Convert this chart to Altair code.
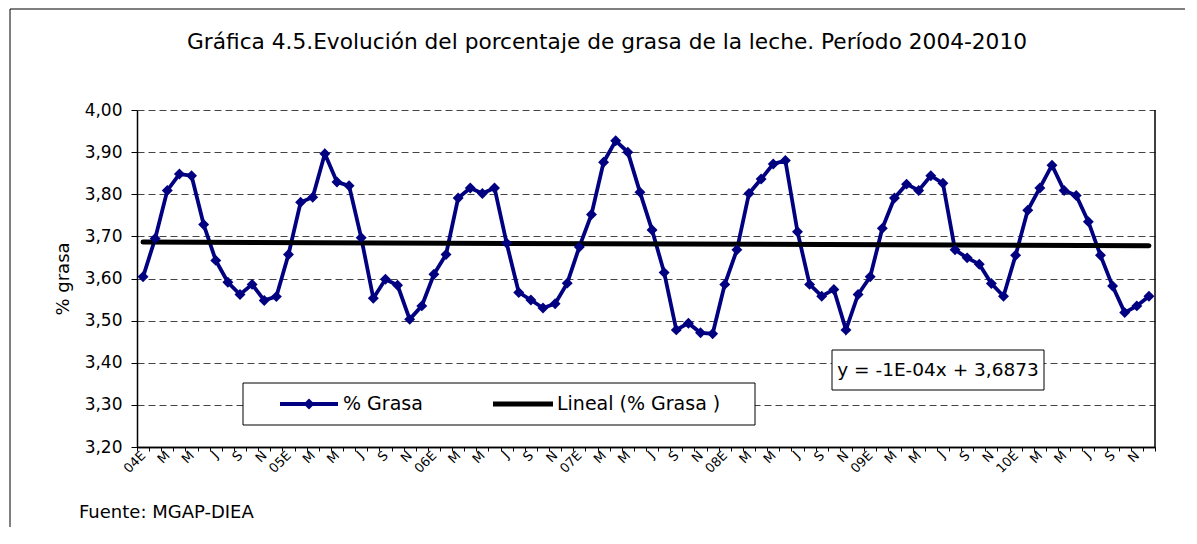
import altair as alt
import pandas as pd

years = ["2004", "2005", "2006", "2007", "2008", "2009", "2010"]
month_initials = ["E", "F", "M", "A", "M", "J", "J", "A", "S", "O", "N", "D"]

grasa_2004 = [3.604, 3.695, 3.809, 3.848, 3.844, 3.728, 3.643, 3.591, 3.562, 3.586, 3.548, 3.557]
grasa_2005 = [3.657, 3.781, 3.793, 3.896, 3.829, 3.820, 3.697, 3.553, 3.598, 3.584, 3.503, 3.535]
grasa_2006 = [3.610, 3.657, 3.791, 3.815, 3.802, 3.815, 3.684, 3.567, 3.549, 3.530, 3.540, 3.589]
grasa_2007 = [3.675, 3.752, 3.876, 3.927, 3.900, 3.805, 3.715, 3.614, 3.478, 3.494, 3.471, 3.469]
grasa_2008 = [3.586, 3.668, 3.802, 3.836, 3.872, 3.880, 3.711, 3.586, 3.558, 3.574, 3.478, 3.562]
grasa_2009 = [3.604, 3.719, 3.791, 3.824, 3.809, 3.844, 3.826, 3.668, 3.649, 3.634, 3.588, 3.558]
grasa_2010 = [3.655, 3.762, 3.815, 3.869, 3.809, 3.797, 3.735, 3.655, 3.582, 3.519, 3.535, 3.558]

y_ticks = [3.2, 3.3, 3.4, 3.5, 3.6, 3.7, 3.8, 3.9, 4.0]

title_text = "Gráfica 4.5.Evolución del porcentaje de grasa  de la leche. Período 2004-2010"
source_text = "Fuente: MGAP-DIEA"
equation_text = "y = -1E-04x + 3,6873"
legend_series = "% Grasa"
legend_trend = "Lineal (% Grasa )"

all_values = grasa_2004 + grasa_2005 + grasa_2006 + grasa_2007 + grasa_2008 + grasa_2009 + grasa_2010
rows = []
tick_labels = []
for yi, yr in enumerate(years):
    for mi, m in enumerate(month_initials):
        rows.append({"idx": yi * 12 + mi, "v": all_values[yi * 12 + mi]})
        if mi % 2 == 0:
            tick_labels.append(yr[2:] + "E" if mi == 0 else m)
        else:
            tick_labels.append("")
df = pd.DataFrame(rows)
n = len(df)

label_array = "[" + ",".join("'" + t + "'" for t in tick_labels) + "]"
x_label_expr = label_array + "[round(datum.value)] || ''"

FONT = "DejaVu Sans"
NAVY = "#000080"
W, H = 1018, 337
x_scale = alt.Scale(domain=[-0.5, n - 0.5], nice=False, zero=False)

# axis carrying the month labels (at every other category)
x_labels = alt.X(
    "idx:Q",
    scale=x_scale,
    axis=alt.Axis(
        orient="bottom",
        values=list(range(0, n, 2)),
        labelExpr=x_label_expr,
        labelAngle=315,
        labelAlign="right",
        labelBaseline="middle",
        labelOverlap=False,
        labelFont=FONT,
        labelFontSize=13,
        labelColor="black",
        labelPadding=6,
        ticks=False,
        domainColor="black",
        domainWidth=1.5,
        grid=False,
        title=None,
    ),
)
# axis carrying the tick marks (between categories)
x_ticks = alt.X(
    "idx:Q",
    scale=x_scale,
    axis=alt.Axis(
        orient="bottom",
        values=[i - 0.5 for i in range(n + 1)],
        labels=False,
        tickSize=4,
        tickColor="black",
        domainColor="black",
        domainWidth=1.5,
        grid=False,
        title=None,
    ),
)
y_enc = alt.Y(
    "v:Q",
    scale=alt.Scale(domain=[3.2, 4.0], nice=False, zero=False),
    axis=alt.Axis(
        values=y_ticks,
        labelExpr="replace(format(datum.value, '.2f'), '.', ',')",
        labelFont=FONT,
        labelFontSize=17,
        labelColor="black",
        labelPadding=9,
        tickSize=6,
        tickColor="black",
        domainColor="black",
        domainWidth=1.5,
        grid=True,
        gridDash=[7, 4],
        gridColor="#444444",
        gridWidth=1,
        title="% grasa",
        titleFont=FONT,
        titleFontSize=18,
        titleFontWeight="normal",
        titleColor="black",
        titlePadding=12,
    ),
)

base = alt.Chart(df)
series_line = base.mark_line(color=NAVY, strokeWidth=3.8).encode(x=x_labels, y=y_enc)
trend = base.transform_regression("idx", "v").mark_line(
    color="black", strokeWidth=5, strokeCap="round").encode(x=x_ticks, y=y_enc)
series_pts = base.mark_point(shape="diamond", filled=True, color=NAVY, size=120, opacity=1).encode(
    x=alt.X("idx:Q", scale=x_scale, axis=None), y=y_enc)

one = alt.Chart(pd.DataFrame({"a": [0]}))
frame = one.mark_rect(fillOpacity=0, stroke="black", strokeWidth=1).encode(
    x=alt.value(-127), x2=alt.value(1052), y=alt.value(-101), y2=alt.value(426))
right_border = one.mark_rule(color="black", strokeWidth=1.5).encode(
    x=alt.value(W), y=alt.value(0), y2=alt.value(H))
title = one.mark_text(font=FONT, fontSize=21.7, align="center", baseline="middle", color="black").encode(
    x=alt.value(470), y=alt.value(-68), text=alt.value(title_text))
source = one.mark_text(font=FONT, fontSize=18, align="left", baseline="middle", color="black").encode(
    x=alt.value(-58), y=alt.value(403), text=alt.value(source_text))

leg_box = one.mark_rect(fill="white", stroke="black", strokeWidth=1).encode(
    x=alt.value(106), x2=alt.value(618), y=alt.value(273), y2=alt.value(315))
leg_line1 = one.mark_rule(color=NAVY, strokeWidth=3.8).encode(
    x=alt.value(143), x2=alt.value(201), y=alt.value(294))
leg_pt = one.mark_point(shape="diamond", filled=True, color=NAVY, size=120, opacity=1).encode(
    x=alt.value(172), y=alt.value(294))
leg_txt1 = one.mark_text(font=FONT, fontSize=19, align="left", baseline="middle", color="black").encode(
    x=alt.value(206), y=alt.value(294), text=alt.value(legend_series))
leg_line2 = one.mark_rule(color="black", strokeWidth=5).encode(
    x=alt.value(356), x2=alt.value(416), y=alt.value(294))
leg_txt2 = one.mark_text(font=FONT, fontSize=19, align="left", baseline="middle", color="black").encode(
    x=alt.value(420), y=alt.value(294), text=alt.value(legend_trend))

eq_box = one.mark_rect(fill="white", stroke="black", strokeWidth=1).encode(
    x=alt.value(695), x2=alt.value(907), y=alt.value(240), y2=alt.value(280))
eq_txt = one.mark_text(font=FONT, fontSize=18.5, align="center", baseline="middle", color="black").encode(
    x=alt.value(801), y=alt.value(260), text=alt.value(equation_text))

chart = alt.layer(
    frame, series_line, trend, series_pts, right_border, title, source,
    leg_box, leg_line1, leg_pt, leg_txt1, leg_line2, leg_txt2, eq_box, eq_txt,
).resolve_axis(x="independent").properties(
    width=W, height=H,
    padding={"left": 129, "top": 102, "right": 30, "bottom": 80},
    autosize=alt.AutoSizeParams(type="none"),
    background="white",
).configure_view(stroke=None)

chart.save("out.html", embed_options={"renderer": "svg", "actions": False})
